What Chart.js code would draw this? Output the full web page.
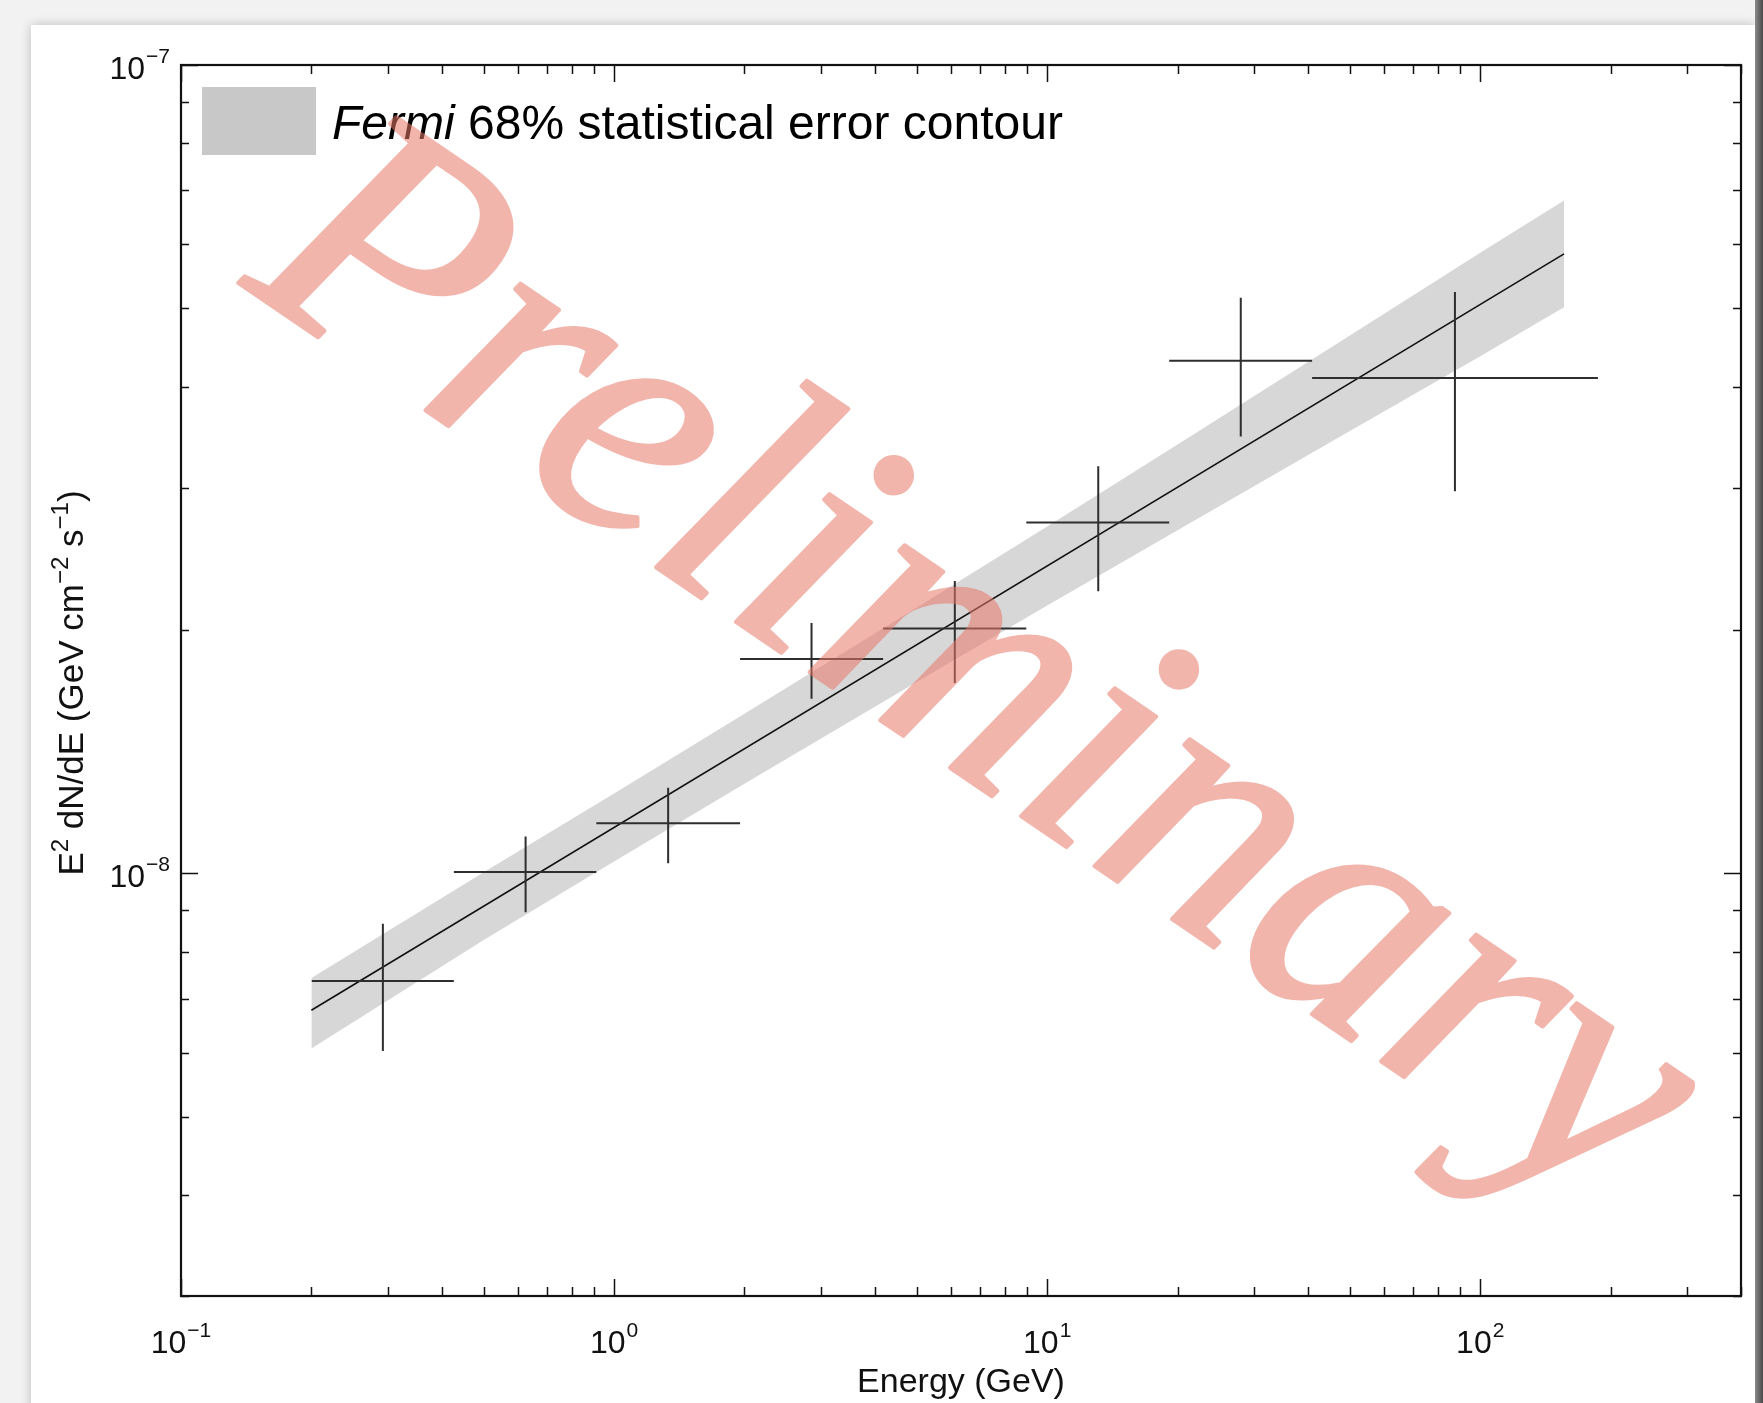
<!DOCTYPE html>
<html>
<head>
<meta charset="utf-8">
<title>Fermi spectrum</title>
<script src="https://cdn.jsdelivr.net/npm/chart.js@4.4.1/dist/chart.umd.min.js"></script>
<style>
  html, body { margin: 0; padding: 0; }
  body { width: 1763px; height: 1403px; background: #f2f2f2; position: relative; overflow: hidden; }
  #card { position: absolute; left: 31px; top: 25px; width: 1724px; height: 1420px; background: #fff; box-shadow: 0 0 10px rgba(0,0,0,0.22); }
  #edge { position: absolute; left: 1755px; top: 0; width: 8px; height: 1403px; background: linear-gradient(to right, #8a8a8a, #4a4a4a); }
  #chart { position: absolute; left: 0; top: 0; }
</style>
</head>
<body>
<div id="card"></div>
<div id="edge"></div>
<canvas id="chart" width="1763" height="1403"></canvas>
<script>
// spectral points (energy bins in GeV, E^2 dN/dE in GeV cm^-2 s^-1)
const binLo = [0.2004, 0.4266, 0.910, 1.954, 4.18, 8.95, 19.13, 40.9];
const binHi = [0.4266, 0.910, 1.954, 4.18, 8.95, 19.13, 40.9, 186.9];
const energy = [0.2925, 0.6247, 1.333, 2.857, 6.12, 13.12, 27.99, 87.4];
const flux = [7.36e-9, 1.004e-8, 1.153e-8, 1.841e-8, 2.008e-8, 2.716e-8, 4.306e-8, 4.10e-8];
const fluxLo = [6.03e-9, 8.95e-9, 1.029e-8, 1.644e-8, 1.72e-8, 2.234e-8, 3.47e-8, 2.97e-8];
const fluxHi = [8.66e-9, 1.111e-8, 1.276e-8, 2.041e-8, 2.30e-8, 3.188e-8, 5.153e-8, 5.237e-8];

// best fit power law
const fitE = [0.2, 156.1];
const fitF = [6.77e-9, 5.84e-8];

// 68% error contour
const bandE = [0.2, 0.5, 1, 2, 5, 10, 20, 50, 100, 156.1];
const bandHi = [7.42e-9, 1.003e-8, 1.255e-8, 1.575e-8, 2.132e-8, 2.686e-8, 3.392e-8, 4.628e-8, 5.856e-8, 6.80e-8];
const bandLo = [6.07e-9, 8.27e-9, 1.034e-8, 1.291e-8, 1.725e-8, 2.144e-8, 2.658e-8, 3.526e-8, 4.362e-8, 5.015e-8];

// axes
const xMin = 0.1, xMax = 400;
const yMin = 3e-9, yMax = 1e-7;
const xMajor = [0.1, 1, 10, 100];
const xMajorExp = ['\u22121', '0', '1', '2'];
const yMajor = [1e-8, 1e-7];
const yMajorExp = ['\u22128', '\u22127'];

const toXY = (xs, ys) => xs.map((v, i) => ({ x: v, y: ys[i] }));

function minorTicks(lo, hi) {
  const out = [];
  for (let d = Math.floor(Math.log10(lo)); d <= Math.ceil(Math.log10(hi)); d++) {
    for (let m = 1; m <= 9; m++) {
      const v = m * Math.pow(10, d);
      if (v >= lo * 0.999 && v <= hi * 1.001) out.push({ v, major: m === 1 });
    }
  }
  return out;
}

function drawPow(ctx, base, exp, x, y, align, bf, ef, rise) {
  ctx.font = bf + 'px "Liberation Sans"';
  const wb = ctx.measureText(base).width;
  ctx.font = ef + 'px "Liberation Sans"';
  const we = ctx.measureText(exp).width;
  const total = wb + we + 1;
  let start = align === 'center' ? x - total / 2 : x - total;
  ctx.textAlign = 'left';
  ctx.textBaseline = 'alphabetic';
  ctx.font = bf + 'px "Liberation Sans"';
  ctx.fillText(base, start, y);
  ctx.font = ef + 'px "Liberation Sans"';
  ctx.fillText(exp, start + wb + 1, y - rise);
}

const errorBars = {
  id: 'errorBars',
  afterDatasetsDraw(chart) {
    const { ctx, scales: { x, y } } = chart;
    ctx.save();
    ctx.strokeStyle = '#2e2e2e';
    ctx.lineWidth = 2;
    energy.forEach((e, i) => {
      const px = x.getPixelForValue(e), py = y.getPixelForValue(flux[i]);
      ctx.beginPath();
      ctx.moveTo(x.getPixelForValue(binLo[i]), py);
      ctx.lineTo(x.getPixelForValue(binHi[i]), py);
      ctx.moveTo(px, y.getPixelForValue(fluxHi[i]));
      ctx.lineTo(px, y.getPixelForValue(fluxLo[i]));
      ctx.stroke();
    });
    ctx.restore();
  }
};

const frame = {
  id: 'frame',
  afterDraw(chart) {
    const { ctx, chartArea: a, scales: { x, y } } = chart;
    ctx.save();
    ctx.strokeStyle = '#111';
    ctx.lineWidth = 1.5;
    ctx.beginPath();
    minorTicks(xMin, xMax).forEach(t => {
      const px = Math.round(x.getPixelForValue(t.v)) + 0.5;
      const len = t.major ? 17 : 9;
      ctx.moveTo(px, a.bottom); ctx.lineTo(px, a.bottom - len);
      ctx.moveTo(px, a.top); ctx.lineTo(px, a.top + len);
    });
    minorTicks(yMin, yMax).forEach(t => {
      const py = Math.round(y.getPixelForValue(t.v)) + 0.5;
      const len = t.major ? 17 : 8;
      ctx.moveTo(a.left, py); ctx.lineTo(a.left + len, py);
      ctx.moveTo(a.right, py); ctx.lineTo(a.right - len, py);
    });
    ctx.stroke();
    ctx.lineWidth = 2.2;
    ctx.strokeRect(a.left, a.top, a.right - a.left, a.bottom - a.top);

    // tick labels
    ctx.fillStyle = '#111';
    xMajor.forEach((v, i) => {
      drawPow(ctx, '10', xMajorExp[i], x.getPixelForValue(v), 1353, 'center', 32, 21, 16);
    });
    yMajor.forEach((v, i) => {
      drawPow(ctx, '10', yMajorExp[i], 170, y.getPixelForValue(v) + 14, 'right', 32, 21, 16);
    });

    // axis titles
    ctx.font = '34px "Liberation Sans"';
    ctx.textAlign = 'center';
    ctx.textBaseline = 'alphabetic';
    ctx.fillText('Energy (GeV)', (a.left + a.right) / 2, 1392);

    const parts = [['E', 0], ['2', 1], [' dN/dE (GeV cm', 0], ['\u22122', 1], [' s', 0], ['\u22121', 1], [')', 0]];
    const fontOf = p => p[1] ? '24px "Liberation Sans"' : '35px "Liberation Sans"';
    let tw = 0;
    parts.forEach(p => { ctx.font = fontOf(p); tw += ctx.measureText(p[0]).width; });
    ctx.translate(83, 683);
    ctx.rotate(-Math.PI / 2);
    ctx.textAlign = 'left';
    let cx = -tw / 2;
    parts.forEach(p => {
      ctx.font = fontOf(p);
      ctx.fillText(p[0], cx, p[1] ? -15 : 0);
      cx += ctx.measureText(p[0]).width;
    });
    ctx.setTransform(1, 0, 0, 1, 0, 0);

    // legend
    ctx.fillStyle = '#c8c8c8';
    ctx.fillRect(202, 87, 114, 68);
    ctx.fillStyle = '#000';
    ctx.textAlign = 'left';
    ctx.font = 'italic 48px "Liberation Sans"';
    ctx.fillText('Fermi', 332, 139);
    const wf = ctx.measureText('Fermi').width;
    ctx.font = '48px "Liberation Sans"';
    ctx.fillText(' 68% statistical error contour', 332 + wf, 139);
    ctx.restore();
  }
};

const watermark = {
  id: 'watermark',
  afterDraw(chart) {
    const { ctx, canvas } = chart;
    const off = document.createElement('canvas');
    off.width = canvas.width; off.height = canvas.height;
    const o = off.getContext('2d');
    const size = 345;
    o.font = 'italic ' + size + 'px "Liberation Serif"';
    o.textAlign = 'center';
    o.textBaseline = 'alphabetic';
    o.fillStyle = 'rgb(232,120,105)';
    o.strokeStyle = 'rgb(232,120,105)';
    o.lineWidth = 4;
    o.lineJoin = 'round';
    o.translate(968, 684);
    o.rotate(0.598);
    o.fillText('Preliminary', 0, size * 0.23);
    o.strokeText('Preliminary', 0, size * 0.23);
    ctx.save();
    ctx.globalAlpha = 0.55;
    ctx.drawImage(off, 0, 0);
    ctx.restore();
  }
};

new Chart(document.getElementById('chart'), {
  type: 'line',
  data: {
    datasets: [
      { label: 'band upper', data: toXY(bandE, bandHi), borderWidth: 0, pointRadius: 0, fill: false, order: 3 },
      { label: 'band lower', data: toXY(bandE, bandLo), borderWidth: 0, pointRadius: 0, fill: '-1', backgroundColor: '#d7d7d7', order: 3 },
      { label: 'fit', data: toXY(fitE, fitF), borderColor: '#111', borderWidth: 1.6, pointRadius: 0, fill: false, order: 2 },
      { label: 'points', data: toXY(energy, flux), showLine: false, pointRadius: 0, order: 1 }
    ]
  },
  options: {
    responsive: false,
    animation: false,
    devicePixelRatio: 1,
    layout: { padding: { left: 181, right: 22, top: 65, bottom: 107 } },
    scales: {
      x: { type: 'logarithmic', min: xMin, max: xMax, display: false },
      y: { type: 'logarithmic', min: yMin, max: yMax, display: false }
    },
    plugins: { legend: { display: false }, tooltip: { enabled: false } }
  },
  plugins: [errorBars, frame, watermark]
});
</script>
</body>
</html>
